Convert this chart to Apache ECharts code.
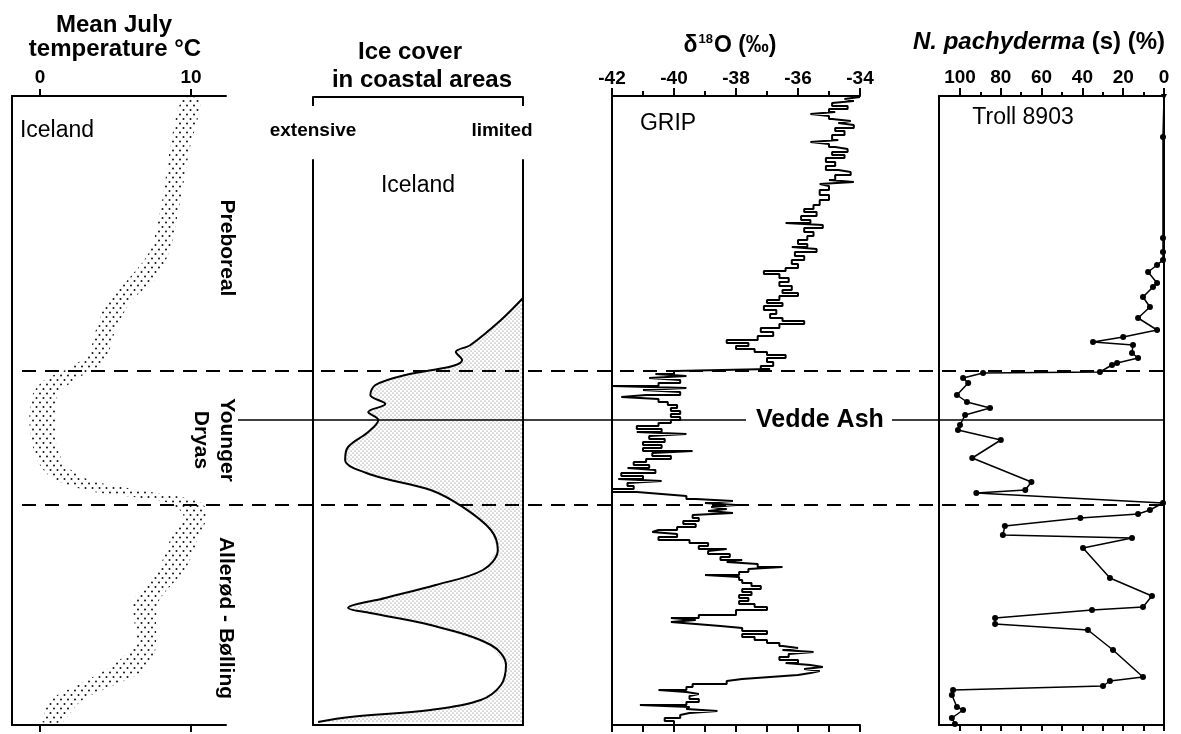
<!DOCTYPE html>
<html><head><meta charset="utf-8">
<script src="https://cdn.jsdelivr.net/npm/echarts@6/dist/echarts.min.js"></script>
<style>html,body{margin:0;padding:0;background:#fff}#c{width:1181px;height:734px}</style>
</head><body><div id="c"></div>
<script>
// ---- common time axis (calendar age, yr BP; top = young) ----
const AGE_MIN = 8990, AGE_MAX = 15280;
const zoneBoundaryAges = [11740, 13080];   // Preboreal / Younger Dryas / Allerød-Bølling
const veddeAshAge = 12230;

// ---- panel 1: mean July temperature, Iceland (band) ----
const tempAge  = [9030, 9530, 10030, 10530, 10830, 11030, 11330, 11530, 11680, 11830, 11980, 12230, 12480, 12680, 12830, 12950, 13050, 13180, 13360, 13700, 14030, 14200, 14430, 14600, 14760, 14900, 15030, 15200, 15250];
const tempLow  = [9.4, 8.6, 8.1, 7.3, 5.8, 4.5, 3.7, 3.3, 2.3, 0.3, -0.5, -0.7, -0.5, 0, 1.0, 3.6, 8.3, 9.5, 8.8, 7.9, 6.2, 6.2, 6.4, 5.5, 4.0, 2.2, 0.7, 0.2, 0.1];
const tempHigh = [10.6, 9.9, 9.3, 8.6, 7.6, 6.1, 5.0, 4.6, 4.0, 2.3, 1.2, 1.0, 1.1, 1.7, 3.3, 7.3, 10.6, 11.1, 10.6, 9.7, 7.9, 7.7, 7.7, 7.5, 6.6, 4.6, 2.8, 1.8, 1.5];
const tempTicks = [0, 10];

// ---- panel 2: ice cover in coastal areas (0 = extensive, 100 = limited) ----
const iceAge   = [11010, 11230, 11480, 11550, 11630, 11690, 11780, 11880, 11980, 12070, 12150, 12230, 12350, 12500, 12630, 12780, 12930, 13100, 13330, 13530, 13730, 13880, 14010, 14110, 14160, 14280, 14480, 14680, 14880, 15030, 15130, 15200, 15250];
const iceCover = [100, 89.5, 75, 68, 71, 66.5, 44, 29.7, 27.3, 34.4, 26.3, 31.1, 26.3, 16.7, 15.3, 28.2, 56, 71.3, 84.7, 88, 80.9, 58.4, 34.4, 16.7, 27.3, 56, 84.7, 91.9, 89.5, 79.9, 56, 17.7, 2.4];
const iceEndLabels = ['extensive', 'limited'];

// ---- panel 3: GRIP delta18O ----
const gripAge = [9000,9020,9040,9060,9090,9120,9150,9170,9190,9220,9240,9260,9280,9310,9340,9380,9430,9450,9470,9500,9520,9550,9580,9610,9650,9690,9730,9750,9780,9830,9850,9870,9890,9930,9980,10030,10080,10120,10150,10190,10230,10260,10280,10310,10350,10390,10430,10470,10500,10520,10550,10590,10630,10670,10710,10740,10770,10810,10850,10890,10930,10960,10990,11030,11060,11090,11130,11170,11210,11240,11270,11310,11350,11390,11430,11460,11490,11520,11550,11580,11610,11650,11690,11720,11740,11770,11790,11810,11830,11860,11890,11910,11930,11950,11980,12000,12020,12050,12080,12110,12140,12170,12200,12230,12260,12290,12320,12350,12370,12390,12420,12450,12480,12510,12540,12560,12590,12620,12650,12680,12710,12730,12760,12790,12820,12840,12860,12890,12920,12950,12970,12990,13020,13040,13060,13080,13100,13120,13140,13160,13180,13210,13240,13270,13300,13330,13350,13370,13400,13430,13460,13490,13520,13540,13570,13600,13630,13650,13670,13700,13720,13750,13780,13800,13830,13860,13890,13920,13950,13980,14010,14040,14070,14100,14130,14180,14210,14230,14250,14270,14290,14310,14340,14370,14400,14430,14460,14490,14510,14530,14550,14570,14600,14630,14660,14680,14700,14720,14740,14760,14780,14800,14820,14840,14870,14900,14930,14950,14970,14990,15020,15050,15080,15100,15120,15140,15160,15180,15210,15240,15270];
const gripD18O = [-34.0,-34.5,-34.2,-34.9,-34.4,-35.0,-34.8,-35.6,-35.0,-34.9,-34.3,-34.7,-34.2,-34.8,-34.5,-34.9,-34.7,-35.6,-35.0,-34.8,-34.4,-34.9,-34.5,-35.1,-34.8,-35.1,-34.7,-34.3,-34.8,-35.0,-34.2,-35.3,-35.0,-35.3,-35.0,-35.3,-35.5,-35.8,-35.4,-35.9,-35.6,-36.4,-35.2,-35.8,-35.5,-35.7,-36.0,-35.7,-36.2,-35.4,-36.1,-35.8,-36.2,-36.0,-36.4,-37.1,-36.6,-36.3,-36.6,-36.2,-36.5,-36.0,-36.6,-37.0,-36.5,-37.1,-36.7,-36.9,-36.5,-35.8,-36.6,-37.2,-36.8,-37.3,-38.3,-37.6,-38.0,-37.4,-37.0,-36.4,-37.0,-36.8,-37.2,-36.9,-40.0,-40.6,-39.6,-40.8,-39.8,-40.5,-42.0,-39.6,-41.0,-39.8,-40.9,-41.7,-40.5,-40.2,-39.9,-40.1,-39.8,-40.1,-39.8,-40.1,-40.5,-41.2,-40.4,-41.2,-39.6,-40.8,-40.3,-41.0,-40.4,-41.0,-39.4,-40.7,-40.1,-40.9,-41.3,-40.8,-41.5,-40.6,-41.7,-41.0,-41.8,-40.4,-41.5,-41.3,-42.0,-41.2,-40.4,-39.6,-39.3,-38.1,-39.0,-38.0,-38.8,-38.3,-38.9,-38.1,-39.4,-39.2,-39.7,-39.3,-39.9,-40.5,-40.7,-39.9,-40.5,-39.5,-38.9,-39.2,-38.3,-38.9,-38.2,-38.5,-37.8,-38.3,-37.3,-36.5,-37.6,-37.9,-39.0,-37.9,-37.8,-37.5,-37.2,-37.8,-37.5,-37.9,-37.6,-37.9,-37.4,-37.0,-38.0,-39.2,-40.1,-39.3,-40.1,-39.3,-38.5,-37.8,-37.0,-37.8,-37.4,-37.0,-36.6,-36.5,-36.0,-36.5,-35.5,-36.3,-36.6,-36.0,-36.4,-35.6,-35.2,-35.8,-35.3,-35.6,-36.0,-36.9,-37.8,-38.3,-39.4,-39.6,-40.5,-39.6,-39.2,-39.5,-39.2,-39.6,-41.1,-39.5,-39.6,-38.6,-39.5,-39.8,-40.3,-40.0,-40.0];

// ---- panel 4: N. pachyderma (s) %, Troll 8903 ----
const trollAge = [9000,9400,10410,10550,10630,10680,10750,10860,10900,11000,11100,11210,11330,11400,11450,11480,11560,11610,11660,11680,11750,11760,11810,11860,11980,12050,12110,12180,12280,12330,12430,12610,12850,12930,12960,13060,13130,13170,13210,13290,13380,13410,13510,13810,13990,14100,14130,14210,14270,14330,14530,14800,14840,14890,14930,14980,15100,15130,15210,15270];
const trollPct = [0,0.5,0.5,0.5,0.5,3.4,7.8,3.4,5.4,10.3,6.9,12.7,3.4,20,34.8,15.2,15.7,12.7,23,25.5,31.4,88.7,98.5,96,101.5,96.6,85.3,97.5,100,101,80,94,65,68,92,0.5,6.9,12.7,41,78,79,15.7,39.7,26.5,5.9,10.3,35.3,82.8,82.8,37.3,25,10.3,26.5,29.9,103.4,104,101.5,98.5,104,102.5];
const trollTicks = [0, 20, 40, 60, 80, 100];
const trollMinorTicks = [10, 30, 50, 70, 90];
const trollAllTicks = [0, 10, 20, 30, 40, 50, 60, 70, 80, 90, 100];

// ---------------------------------------------------------------
const FONT = "'Liberation Sans', Arial, Helvetica, sans-serif";
const BLACK = '#000';

function dotPattern(w, h, dots, r, color) {
  const c = document.createElement('canvas');
  c.width = w; c.height = h;
  const g = c.getContext('2d');
  g.fillStyle = color;
  dots.forEach(([x, y]) => { g.beginPath(); g.arc(x, y, r, 0, Math.PI * 2); g.fill(); });
  return { image: c, repeat: 'repeat' };
}
const bandFill = dotPattern(7, 9, [[1.5, 2], [5, 6.5]], 1.0, '#111');
const iceFill = dotPattern(4, 4, [[1, 1], [3, 3]], 0.55, '#666');

const zip = (xs, ys) => xs.map((x, i) => [x, ys[i]]);

const lineAx = { show: true, onZero: false, lineStyle: { color: BLACK, width: 2 } };
const noSplit = { show: false };
const grids = [
  { left: 12, top: 96, width: 214, height: 629 },
  { left: 313, top: 160, width: 210, height: 565 },
  { left: 612, top: 96, width: 248, height: 629 },
  { left: 939, top: 96, width: 225, height: 629 },
  { left: 0, top: 96, width: 1181, height: 629 }
].map(g => Object.assign({ containLabel: false, outerBoundsMode: 'none', show: false }, g));

const tickLabel = { fontFamily: FONT, fontWeight: 'bold', fontSize: 19, color: BLACK };

const xAxis = [
  // 0 panel1 top
  { gridIndex: 0, type: 'value', position: 'top', min: -1.854, max: 12.318,
    axisLine: lineAx, splitLine: noSplit,
    axisTick: { show: true, length: 7, lineStyle: { color: BLACK, width: 2 }, customValues: tempTicks },
    axisLabel: Object.assign({ show: true, margin: 9, customValues: tempTicks }, tickLabel) },
  // 1 panel1 bottom
  { gridIndex: 0, type: 'value', position: 'bottom', min: -1.854, max: 12.318,
    axisLine: lineAx, splitLine: noSplit,
    axisTick: { show: true, length: 7, lineStyle: { color: BLACK, width: 2 }, customValues: tempTicks },
    axisLabel: { show: false } },
  // 2 panel2 bracket
  { gridIndex: 1, type: 'value', position: 'top', offset: 63, min: 0, max: 100,
    axisLine: lineAx, splitLine: noSplit,
    axisTick: { show: true, inside: true, length: 9, lineStyle: { color: BLACK, width: 2 }, customValues: [0, 100] },
    axisLabel: { show: true, inside: true, margin: 24, customValues: [0, 90],
      formatter: v => (v === 0 ? iceEndLabels[0] : iceEndLabels[1]),
      fontFamily: FONT, fontWeight: 'bold', fontSize: 19, color: BLACK } },
  // 3 panel2 bottom
  { gridIndex: 1, type: 'value', position: 'bottom', min: 0, max: 100,
    axisLine: lineAx, splitLine: noSplit, axisTick: { show: false }, axisLabel: { show: false } },
  // 4 panel3 top
  { gridIndex: 2, type: 'value', position: 'top', min: -42, max: -34, interval: 2,
    axisLine: lineAx, splitLine: noSplit,
    axisTick: { show: true, length: 8, lineStyle: { color: BLACK, width: 2 } },
    minorTick: { show: true, splitNumber: 2, length: 5, lineStyle: { color: BLACK, width: 2 } },
    minorSplitLine: { show: false },
    axisLabel: Object.assign({ show: true, margin: 8 }, tickLabel) },
  // 5 panel3 bottom
  { gridIndex: 2, type: 'value', position: 'bottom', min: -42, max: -34, interval: 2,
    axisLine: lineAx, splitLine: noSplit,
    axisTick: { show: true, length: 7, lineStyle: { color: BLACK, width: 2 } },
    minorTick: { show: true, splitNumber: 2, length: 7, lineStyle: { color: BLACK, width: 2 } },
    minorSplitLine: { show: false },
    axisLabel: { show: false } },
  // 6 panel4 top (major)
  { gridIndex: 3, type: 'value', position: 'top', inverse: true, min: 0, max: 110.3,
    axisLine: lineAx, splitLine: noSplit,
    axisTick: { show: true, length: 8, lineStyle: { color: BLACK, width: 2 }, customValues: trollTicks },
    axisLabel: Object.assign({ show: true, margin: 9, customValues: trollTicks }, tickLabel) },
  // 7 panel4 top (minor ticks)
  { gridIndex: 3, type: 'value', position: 'top', inverse: true, min: 0, max: 110.3,
    axisLine: { show: false, onZero: false }, splitLine: noSplit,
    axisTick: { show: true, length: 4, lineStyle: { color: BLACK, width: 2 }, customValues: trollMinorTicks },
    axisLabel: { show: false } },
  // 8 panel4 bottom
  { gridIndex: 3, type: 'value', position: 'bottom', inverse: true, min: 0, max: 110.3,
    axisLine: lineAx, splitLine: noSplit,
    axisTick: { show: true, length: 6, lineStyle: { color: BLACK, width: 2 }, customValues: trollAllTicks },
    axisLabel: { show: false } },
  // 9 overlay
  { gridIndex: 4, type: 'value', min: 0, max: 1181, show: false, splitLine: noSplit }
];

const ageAxis = (gi, pos, min, showLine) => ({
  gridIndex: gi, type: 'value', position: pos, inverse: true, min: min, max: AGE_MAX,
  show: true, axisLine: showLine ? lineAx : { show: false, onZero: false },
  axisTick: { show: false }, axisLabel: { show: false }, splitLine: noSplit
});
const yAxis = [
  ageAxis(0, 'left', AGE_MIN, true),     // 0
  ageAxis(1, 'left', 9630, true),        // 1
  ageAxis(1, 'right', 9630, true),       // 2
  ageAxis(2, 'left', AGE_MIN, true),     // 3
  ageAxis(3, 'left', AGE_MIN, true),     // 4
  ageAxis(3, 'right', AGE_MIN, true),    // 5
  Object.assign(ageAxis(4, 'left', AGE_MIN, false), { show: false }) // 6 overlay
];

const series = [
  // temperature band
  { type: 'custom', xAxisIndex: 0, yAxisIndex: 0, clip: true, silent: true, data: [[0, AGE_MIN]],
    renderItem: function (params, api) {
      const pts = [];
      for (let i = 0; i < tempAge.length; i++) pts.push(api.coord([tempHigh[i], tempAge[i]]));
      for (let i = tempAge.length - 1; i >= 0; i--) pts.push(api.coord([tempLow[i], tempAge[i]]));
      return { type: 'polygon', shape: { points: pts, smooth: 0.3 }, style: { fill: bandFill, stroke: null } };
    } },
  // ice cover fill (towards "limited")
  { type: 'custom', xAxisIndex: 2, yAxisIndex: 1, clip: true, silent: true, data: [[0, 9630]],
    renderItem: function (params, api) {
      const pts = iceAge.map((a, i) => api.coord([iceCover[i], a]));
      pts.push(api.coord([100, iceAge[iceAge.length - 1]]));
      pts.push(api.coord([100, iceAge[0]]));
      return { type: 'polygon', shape: { points: pts }, style: { fill: iceFill, stroke: null } };
    } },
  // ice cover outline
  { type: 'line', xAxisIndex: 2, yAxisIndex: 1, data: zip(iceCover, iceAge), smooth: 0.35,
    showSymbol: false, symbol: 'none', silent: true, animation: false,
    lineStyle: { color: BLACK, width: 2 } },
  // GRIP
  { type: 'line', xAxisIndex: 4, yAxisIndex: 3, data: zip(gripD18O, gripAge), step: 'start',
    showSymbol: false, symbol: 'none', silent: true, animation: false,
    lineStyle: { color: BLACK, width: 2 } },
  // Troll 8903
  { type: 'line', xAxisIndex: 6, yAxisIndex: 4, data: zip(trollPct, trollAge),
    symbol: (v, p) => (p.dataIndex === 0 ? 'triangle' : 'circle'),
    symbolRotate: (v, p) => (p.dataIndex === 0 ? 180 : 0),
    symbolSize: 6, showAllSymbol: true, silent: true, animation: false,
    itemStyle: { color: BLACK }, lineStyle: { color: BLACK, width: 1.5 } },
  // reference lines (zone boundaries, Vedde Ash)
  { type: 'line', xAxisIndex: 9, yAxisIndex: 6, data: [[-100, AGE_MIN]], showSymbol: false, symbol: 'none',
    z: 10, silent: true, animation: false,
    markLine: {
      symbol: ['none', 'none'], silent: true, animation: false,
      label: { show: false },
      lineStyle: { color: BLACK, width: 2, type: [14, 9] },
      data: [
        [{ coord: [22, zoneBoundaryAges[0]] }, { coord: [1172, zoneBoundaryAges[0]] }],
        [{ coord: [22, zoneBoundaryAges[1]] }, { coord: [1166, zoneBoundaryAges[1]] }],
        [{ coord: [238, veddeAshAge], lineStyle: { type: 'solid', width: 1.6 },
           label: { show: true, position: 'end', distance: 10, formatter: 'Vedde Ash',
             fontFamily: FONT, fontWeight: 'bold', fontSize: 25, color: BLACK } },
         { coord: [746, veddeAshAge] }],
        [{ coord: [892, veddeAshAge], lineStyle: { type: 'solid', width: 1.6 } }, { coord: [1164, veddeAshAge] }]
      ]
    } }
];

const txt = (text, x, y, size, weight, extra) => ({
  type: 'text', x: x, y: y, silent: true,
  style: Object.assign({ text: text, fontFamily: FONT, fontSize: size, fontWeight: weight || 'normal',
    fill: BLACK, align: 'center', verticalAlign: 'middle' }, extra || {})
});
const rot = (text, x, y) => Object.assign(txt(text, x, y, 21, 'bold'), { rotation: -Math.PI / 2 });

const graphic = [
  txt('Mean July', 114, 25, 24, 'bold'),
  txt('temperature °C', 115, 49, 24, 'bold'),
  txt('Ice cover', 410, 52, 24, 'bold'),
  txt('in coastal areas', 422, 80, 24, 'bold'),
  { type: 'text', x: 730, y: 46, silent: true,
    style: { text: '{a|δ}{s|18}{a|O (‰)}', align: 'center', verticalAlign: 'middle', fill: BLACK,
      rich: { a: { fontFamily: FONT, fontSize: 23, fontWeight: 'bold', fill: BLACK, lineHeight: 26 },
              s: { fontFamily: FONT, fontSize: 13, fontWeight: 'bold', fill: BLACK, verticalAlign: 'top', lineHeight: 26, padding: [0, 1, 0, 1] } } } },
  { type: 'text', x: 1039, y: 42, silent: true,
    style: { text: '{i|N. pachyderma}{b| (s) (%)}', align: 'center', verticalAlign: 'middle', fill: BLACK,
      rich: { i: { fontFamily: FONT, fontSize: 24, fontWeight: 'bold', fontStyle: 'italic', fill: BLACK },
              b: { fontFamily: FONT, fontSize: 24, fontWeight: 'bold', fill: BLACK } } } },
  txt('Iceland', 57, 131, 23),
  txt('Iceland', 418, 186, 23),
  txt('GRIP', 668, 124, 23),
  txt('Troll 8903', 1023, 118, 23),
  rot('Preboreal', 227, 248),
  rot('Younger', 227, 440),
  rot('Dryas', 201, 440),
  rot('Allerød - Bølling', 226, 618)
];

const chart = echarts.init(document.getElementById('c'), null, { renderer: 'canvas' });
chart.setOption({
  backgroundColor: '#fff',
  animation: false,
  grid: grids,
  xAxis: xAxis,
  yAxis: yAxis,
  series: series,
  graphic: graphic
});
</script>
</body></html>
